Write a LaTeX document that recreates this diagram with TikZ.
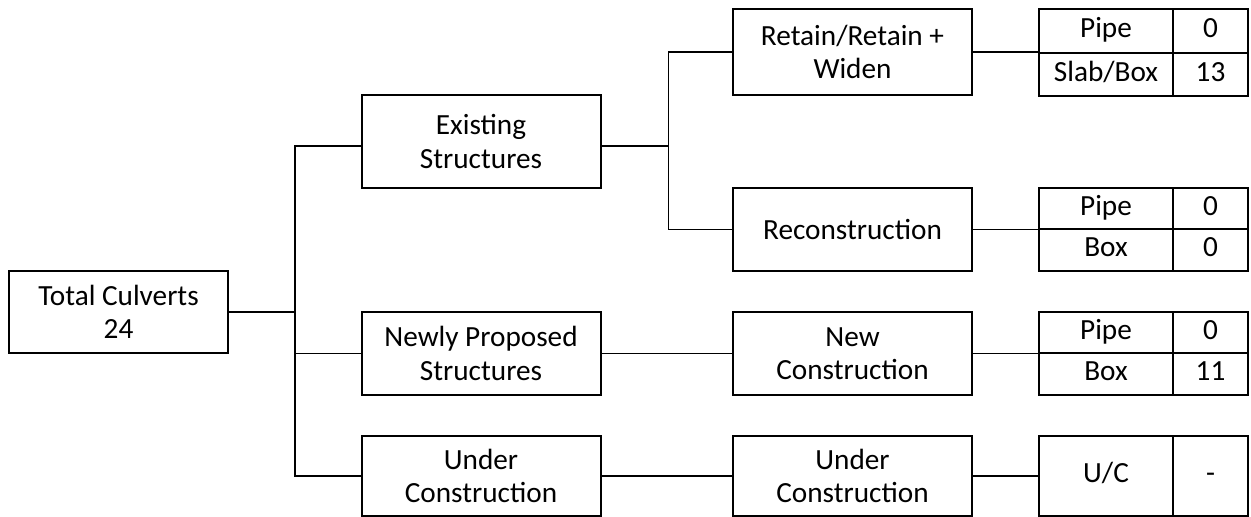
\documentclass[tikz,border=0pt]{standalone}
\usepackage{fontspec}
\setmainfont{Carlito}
\usetikzlibrary{positioning}
\tikzset{
  box/.style={draw, line width=0.8pt, minimum width=95.6pt, minimum height=33.2pt,
    inner sep=0pt, align=center, font=\fontsize{11.7}{13.3}\selectfont},
  namecell/.style={box, minimum width=53.6pt, text height=8pt, text depth=2.6pt},
  valcell/.style={box, minimum width=30pt, text height=8pt, text depth=2.6pt},
  link/.style={line width=0.75pt}
}

\begin{document}
\begin{tikzpicture}[x=0.4pt, y=-0.4pt]
    \useasboundingbox (0,0) rectangle (1251,517);

    % Root
    \node[box, minimum width=87.6pt, minimum height=32.8pt] (total) at (118.5,312) {Total Culverts\\24};

    % Second level
    \node[box, minimum height=37.2pt] (exist) at (481,141.5) {Existing\\Structures};
    \node[box] (newp) at (481,353.5) {Newly Proposed\\Structures};
    \node[box, minimum height=32pt] (under1) at (481,476) {Under\\Construction};

    % Third level
    \node[box, minimum height=34.4pt] (retain) at (852.5,52) {Retain/Retain +\\Widen};
    \node[box] (recon) at (852.5,229.5) {Reconstruction};
    \node[box] (newc) at (852.5,353.5) {New\\Construction};
    \node[box, minimum height=32pt] (under2) at (852.5,476) {Under\\Construction};

    % Tables
    \node[namecell, minimum height=17.4pt] (t1p) at (1106,31) {Pipe};
    \node[valcell, minimum height=17.4pt] (t1pv) at (1210.5,31) {0};
    \node[namecell, minimum height=17.4pt] (t1s) at (1106,74.5) {Slab/Box};
    \node[valcell, minimum height=17.4pt] (t1sv) at (1210.5,74.5) {13};

    \node[namecell, minimum height=16.6pt] (t2p) at (1106,208.5) {Pipe};
    \node[valcell, minimum height=16.6pt] (t2pv) at (1210.5,208.5) {0};
    \node[namecell, minimum height=16.6pt] (t2b) at (1106,250) {Box};
    \node[valcell, minimum height=16.6pt] (t2bv) at (1210.5,250) {0};

    \node[namecell, minimum height=16.6pt] (t3p) at (1106,332.5) {Pipe};
    \node[valcell, minimum height=16.6pt] (t3pv) at (1210.5,332.5) {0};
    \node[namecell, minimum height=16.6pt] (t3b) at (1106,374) {Box};
    \node[valcell, minimum height=16.6pt] (t3bv) at (1210.5,374) {11};

    \node[namecell, minimum height=32pt] (t4n) at (1106,476) {U/C};
    \node[valcell, minimum height=32pt] (t4v) at (1210.5,476) {-};

    % Connectors
    \coordinate (j1) at (295,312);
    \draw[link] (total.east) -- (j1);
    \draw[link] ([yshift=-1.8pt]exist.west) -| (j1) |- (under1.west);
    \draw[link] (j1) |- (newp.west);

    \draw[link] ([yshift=-1.8pt]exist.east) -- ++(67,0) coordinate (j2);
    \draw[link] (retain.west) -| (j2) |- (recon.west);

    \draw[link] (newp) -- (newc);
    \draw[link] (under1) -- (under2);

    \draw[link] (retain.east) -- (retain.east -| t1p.west);
    \draw[link] (recon.east) -- (recon.east -| t2p.west);
    \draw[link] (newc.east) -- (newc.east -| t3p.west);
    \draw[link] (under2.east) -- (t4n.west);
\end{tikzpicture}
\end{document}
